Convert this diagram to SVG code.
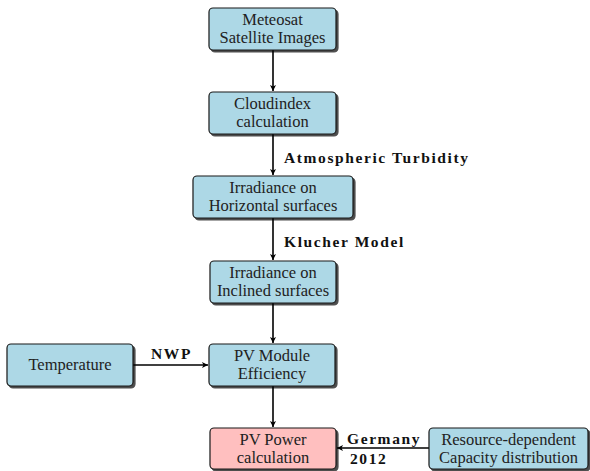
<svg xmlns="http://www.w3.org/2000/svg" width="590" height="471" viewBox="0 0 590 471">
<defs>
<marker id="ah" markerWidth="8" markerHeight="8" refX="6" refY="3" orient="auto" markerUnits="userSpaceOnUse">
<path d="M0,0 L6,3 L0,6 L1.5,3 Z" fill="#000"/>
</marker>
<filter id="sh" x="-10%" y="-10%" width="130%" height="140%">
<feOffset dx="1.8" dy="1.8" in="SourceAlpha" result="o"/>
<feGaussianBlur in="o" stdDeviation="0.7" result="b"/>
<feComponentTransfer in="b" result="c"><feFuncA type="linear" slope="0.7"/></feComponentTransfer>
<feMerge><feMergeNode in="c"/><feMergeNode in="SourceGraphic"/></feMerge>
</filter>
</defs>
<style>
.box{fill:#add8e6;stroke:#1a1a1a;stroke-width:1.2;filter:url(#sh)}
.pink{fill:#ffbfbf}
.t{font-size:16.5px;fill:#222;text-anchor:middle}
.l{font-size:15.5px;font-weight:bold;fill:#111;letter-spacing:1.6px}
.c{stroke:#000;stroke-width:1.6;fill:none;marker-end:url(#ah)}
</style>
<rect width="590" height="471" fill="#fff"/>
<g id="connectors" font-family="'Liberation Serif', 'DejaVu Serif', serif">
<line class="c" x1="273" y1="50" x2="273" y2="91"/>
<line class="c" x1="273" y1="134" x2="273" y2="175"/>
<line class="c" x1="273" y1="218" x2="273" y2="260"/>
<line class="c" x1="273" y1="303" x2="273" y2="343"/>
<line class="c" x1="133" y1="365" x2="208" y2="365"/>
<line class="c" x1="273" y1="386" x2="273" y2="427"/>
<line class="c" x1="429" y1="448" x2="337" y2="448"/>
<text class="l" x="284" y="163">Atmospheric Turbidity</text>
<text class="l" x="284" y="247">Klucher Model</text>
<text class="l" x="151" y="359">NWP</text>
<text class="l" x="347" y="444">Germany</text>
<text class="l" x="350" y="464">2012</text>
</g>
<g font-family="'Liberation Serif', 'DejaVu Serif', serif">
<g id="meteosat"><rect class="box" x="209" y="8" width="127" height="42" rx="4"/><text class="t" x="272.5" y="25">Meteosat</text><text class="t" x="272.5" y="43">Satellite Images</text></g>
<g id="cloudindex"><rect class="box" x="209" y="92" width="127" height="42" rx="4"/><text class="t" x="272.5" y="109">Cloudindex</text><text class="t" x="272.5" y="127">calculation</text></g>
<g id="irr-horizontal"><rect class="box" x="193" y="176" width="160" height="42" rx="4"/><text class="t" x="273" y="193">Irradiance on</text><text class="t" x="273" y="211">Horizontal surfaces</text></g>
<g id="irr-inclined"><rect class="box" x="210" y="261" width="126" height="42" rx="4"/><text class="t" x="273" y="278">Irradiance on</text><text class="t" x="273" y="296">Inclined surfaces</text></g>
<g id="temperature"><rect class="box" x="7" y="344" width="126" height="42" rx="4"/><text class="t" x="70" y="370">Temperature</text></g>
<g id="pv-module"><rect class="box" x="209" y="344" width="126" height="42" rx="4"/><text class="t" x="272" y="361">PV Module</text><text class="t" x="272" y="379">Efficiency</text></g>
<g id="pv-power"><rect class="box pink" x="210" y="428" width="126" height="41" rx="4"/><text class="t" x="273" y="445">PV Power</text><text class="t" x="273" y="463">calculation</text></g>
<g id="capacity"><rect class="box" x="429" y="428" width="159" height="41" rx="4"/><text class="t" x="508.5" y="445">Resource-dependent</text><text class="t" x="508.5" y="463">Capacity distribution</text></g>
</g>
</svg>
